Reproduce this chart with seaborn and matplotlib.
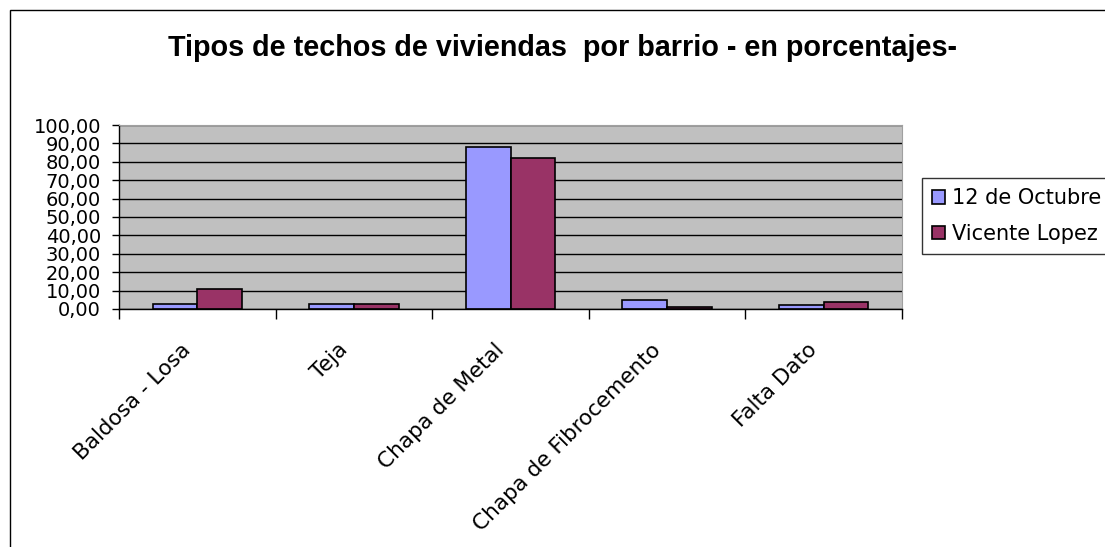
import pandas as pd
import seaborn as sns
import matplotlib.pyplot as plt
import matplotlib.ticker as ticker
import matplotlib.transforms as mtransforms
from matplotlib.patches import Rectangle

# --- Data ---
categories = ['Baldosa - Losa', 'Teja', 'Chapa de Metal', 'Chapa de Fibrocemento', 'Falta Dato']
octubre = [2.9, 2.9, 87.8, 4.9, 2.0]
vicente = [10.7, 2.8, 81.8, 0.9, 3.6]
series_names = ['12 de Octubre', 'Vicente Lopez']
palette = {'12 de Octubre': '#9999FF', 'Vicente Lopez': '#993366'}

df = pd.DataFrame({
    'Categoria': categories * 2,
    'Valor': octubre + vicente,
    'Barrio': [series_names[0]] * len(categories) + [series_names[1]] * len(categories),
})

sns.set_style('white')
plt.rcParams['font.family'] = ['DejaVu Sans']
plt.rcParams['text.color'] = 'black'
plt.rcParams['xtick.color'] = 'black'
plt.rcParams['ytick.color'] = 'black'

fig = plt.figure(figsize=(11.05, 5.47), dpi=100)
ax = fig.add_axes([119 / 1105, 1 - 309 / 547, (902 - 119) / 1105, (309 - 125) / 547])

sns.barplot(data=df, x='Categoria', y='Valor', hue='Barrio', order=categories,
            hue_order=series_names, palette=palette, width=0.57, gap=0,
            edgecolor='black', linewidth=1.2, saturation=1, ax=ax, legend=False)

ax.set_facecolor('#C0C0C0')
ax.set_ylim(0, 100)
ax.set_xlim(-0.5, len(categories) - 0.5)
ax.yaxis.set_major_locator(ticker.MultipleLocator(10))
ax.yaxis.set_major_formatter(ticker.FuncFormatter(lambda v, p: f'{v:.2f}'.replace('.', ',')))
ax.grid(True, axis='y', color='black', linewidth=1)
ax.set_axisbelow(True)
for s in ['top', 'right']:
    ax.spines[s].set_color('#A0A0A0')
for s in ['left', 'bottom']:
    ax.spines[s].set_color('black')
    ax.spines[s].set_linewidth(1)

ax.set_xlabel('')
ax.set_ylabel('')
ax.tick_params(axis='y', which='major', direction='out', length=5, width=1,
               color='black', labelsize=14, pad=8, left=True)
ax.tick_params(axis='x', which='major', length=0, labelsize=15.5, pad=10)
ax.set_xticks([i + 0.5 for i in range(-1, len(categories))], minor=True)
ax.tick_params(axis='x', which='minor', direction='out', length=7, width=1,
               color='black', bottom=True)
shift = mtransforms.ScaledTranslation(-12 / 72, -12 / 72, fig.dpi_scale_trans)
for lbl in ax.get_xticklabels():
    lbl.set_rotation(45)
    lbl.set_ha('right')
    lbl.set_va('top')
    lbl.set_rotation_mode('anchor')
    lbl.set_transform(lbl.get_transform() + shift)

fig.text(562 / 1105, 1 - 48 / 547, 'Tipos de techos de viviendas  por barrio - en porcentajes-',
         ha='center', va='center', fontsize=20.7, fontweight='bold',
         family=['Liberation Sans', 'DejaVu Sans'])

# legend
handles = [Rectangle((0, 0), 1, 1, facecolor=palette[n], edgecolor='black', linewidth=1.2)
           for n in series_names]
leg = fig.legend(handles, series_names, loc='upper left',
                 bbox_to_anchor=(922 / 1105, 1 - 178 / 547), fontsize=15,
                 frameon=True, fancybox=False, handlelength=0.6, handleheight=0.6,
                 handletextpad=0.35, labelspacing=0.75, borderpad=0.5, borderaxespad=0)
leg.get_frame().set_edgecolor('black')
leg.get_frame().set_linewidth(1)

# outer chart frame
fig.patches.append(Rectangle((10 / 1105, -0.1), 1.2, 1 - 10 / 547 + 0.1,
                             transform=fig.transFigure, fill=False,
                             edgecolor='black', linewidth=1))

fig.savefig('out.png', dpi=100)
